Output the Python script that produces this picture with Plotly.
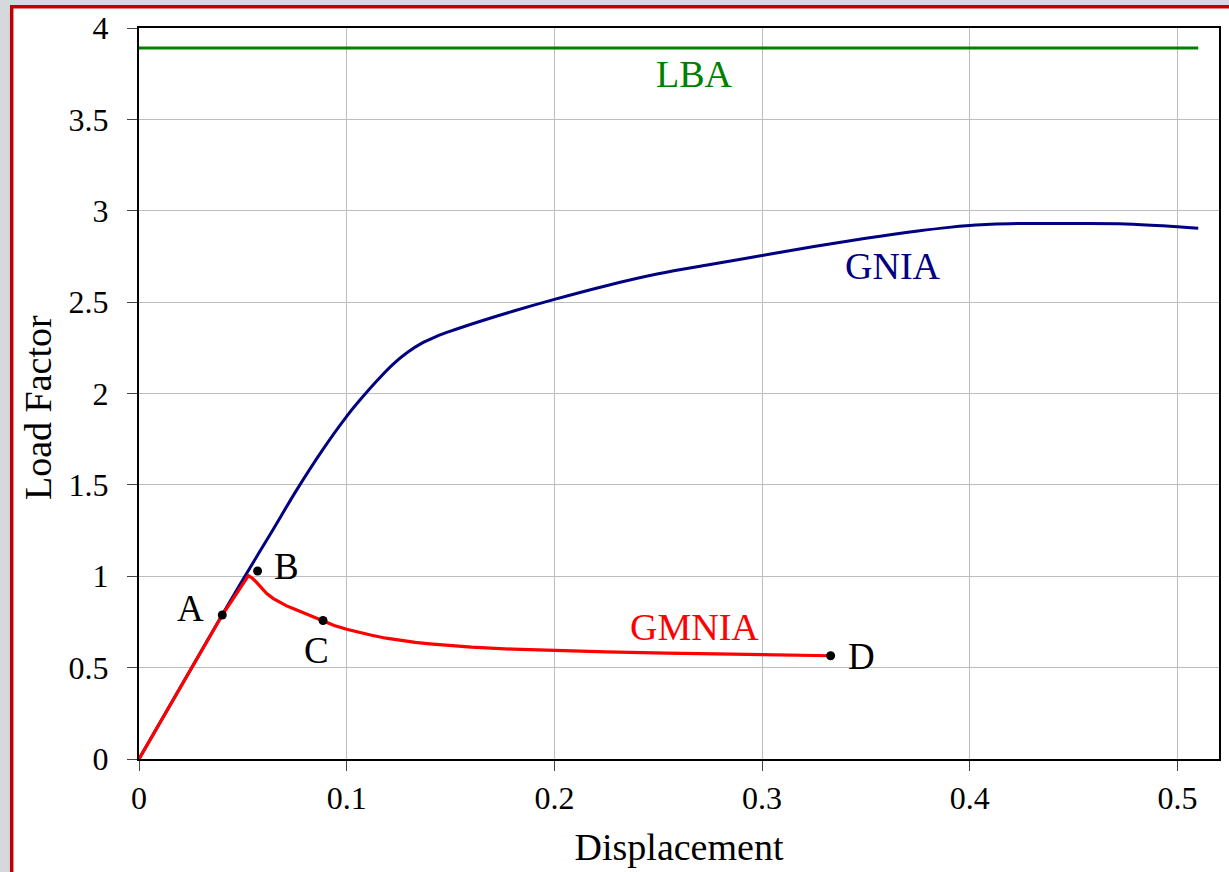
import plotly.graph_objects as go

# Load-displacement curves
lba_x = [0.0, 0.51]
lba_y = [3.89, 3.89]

gnia_x = [0.0, 0.040, 0.0515, 0.064, 0.0758, 0.088, 0.100, 0.1072, 0.115, 0.122,
          0.129, 0.136, 0.143, 0.150, 0.164, 0.180, 0.200, 0.225, 0.250,
          0.275, 0.300, 0.325, 0.350, 0.375, 0.390, 0.400, 0.410, 0.425,
          0.450, 0.475, 0.493, 0.510]
gnia_y = [0.0, 0.788, 1.010, 1.245, 1.470, 1.685, 1.875, 1.975, 2.075, 2.157,
          2.223, 2.274, 2.311, 2.341, 2.394, 2.450, 2.515, 2.590, 2.655,
          2.706, 2.755, 2.804, 2.849, 2.889, 2.909, 2.919, 2.926, 2.930,
          2.930, 2.928, 2.918, 2.904]

gmnia_x = [0.0, 0.020, 0.0401, 0.0527, 0.0545, 0.0565, 0.0583, 0.0615, 0.0647,
           0.0680, 0.0711, 0.0745, 0.0776, 0.0830, 0.0886, 0.0940, 0.100,
           0.106, 0.112, 0.119, 0.1257, 0.133, 0.140, 0.150, 0.160, 0.180,
           0.2004, 0.225, 0.254, 0.280, 0.300, 0.318, 0.333]
gmnia_y = [0.0, 0.393, 0.788, 1.003, 0.990, 0.968, 0.943, 0.905, 0.878,
           0.856, 0.838, 0.822, 0.808, 0.783, 0.758, 0.731, 0.710,
           0.692, 0.677, 0.661, 0.648, 0.638, 0.630, 0.621, 0.612, 0.601,
           0.593, 0.586, 0.579, 0.575, 0.572, 0.568, 0.565]

# Key states along the GMNIA path
point_names = ["A", "B", "C", "D"]
point_x = [0.0401, 0.0571, 0.0886, 0.333]
point_y = [0.788, 1.029, 0.758, 0.565]

# Curve labels
curve_labels = ["LBA", "GNIA", "GMNIA"]
curve_label_x = [0.2673, 0.3632, 0.2673]
curve_label_y = [3.748, 2.698, 0.722]
curve_label_colors = ["#008000", "#000080", "#ff0000"]

# Positions of the point letters next to their dots
letter_x = [0.025, 0.0708, 0.0853, 0.3478]
letter_y = [0.826, 1.051, 0.596, 0.563]

x_ticks = [0, 0.1, 0.2, 0.3, 0.4, 0.5]
x_tick_text = ["0", "0.1", "0.2", "0.3", "0.4", "0.5"]
y_ticks = [0, 0.5, 1, 1.5, 2, 2.5, 3, 3.5, 4]
y_tick_text = ["0", "0.5", "1", "1.5", "2", "2.5", "3", "3.5", "4"]

W, H = 1229, 872
ML, MR, MT, MB = 139, 10, 28, 113
FONT = "Liberation Serif, Times New Roman, serif"

fig = go.Figure()

fig.add_trace(go.Scatter(x=lba_x, y=lba_y, mode="lines",
                         line=dict(color="#008000", width=3), showlegend=False))
fig.add_trace(go.Scatter(x=gnia_x, y=gnia_y, mode="lines",
                         line=dict(color="#000080", width=3, shape="spline", smoothing=1.0),
                         showlegend=False))
fig.add_trace(go.Scatter(x=gmnia_x, y=gmnia_y, mode="lines",
                         line=dict(color="#ff0000", width=3.2),
                         showlegend=False))
fig.add_trace(go.Scatter(x=point_x, y=point_y, mode="markers",
                         marker=dict(color="black", size=9), showlegend=False))

for txt, x, y, c in zip(curve_labels, curve_label_x, curve_label_y, curve_label_colors):
    fig.add_annotation(x=x, y=y, text=txt, showarrow=False,
                       font=dict(family=FONT, size=38, color=c))
for txt, x, y in zip(point_names, letter_x, letter_y):
    fig.add_annotation(x=x, y=y, text=txt, showarrow=False,
                       font=dict(family=FONT, size=37, color="black"))

# Paper frame: white panel with a red edge on the grey page
pw = W - ML - MR
ph = H - MT - MB
def px_to_paper_x(px):
    return (px - ML) / pw
def px_to_paper_y(py):
    return (H - MB - py) / ph

fig.add_shape(type="rect", xref="paper", yref="paper", layer="below",
              x0=px_to_paper_x(11.7), x1=px_to_paper_x(1260),
              y0=px_to_paper_y(900), y1=px_to_paper_y(6.7),
              line=dict(color="#c00000", width=3.5), fillcolor="white")

# Vertical axis title
fig.add_annotation(xref="paper", yref="paper",
                   x=px_to_paper_x(38), y=px_to_paper_y(408),
                   xanchor="center", yanchor="middle",
                   text="Load Factor", textangle=-90, showarrow=False,
                   font=dict(family=FONT, size=38, color="black"))

axis_common = dict(
    showgrid=True, gridcolor="#bdbdbd", gridwidth=1.3,
    showline=True, linecolor="black", linewidth=2, mirror=True,
    ticks="outside", ticklen=10, tickcolor="#444444", tickwidth=1.3,
    zeroline=False,
    tickfont=dict(family=FONT, size=32, color="black"),
)

fig.update_xaxes(range=[0, 0.52], tickvals=x_ticks, ticktext=x_tick_text,
                 title=dict(text="Displacement", font=dict(family=FONT, size=38, color="black"),
                            standoff=18),
                 **axis_common)
fig.update_yaxes(range=[0, 4], tickvals=y_ticks, ticktext=y_tick_text,
                 ticklabelstandoff=12,
                 **axis_common)

fig.update_layout(
    width=W, height=H,
    margin=dict(l=ML, r=MR, t=MT, b=MB, autoexpand=False),
    paper_bgcolor="#d5d8dc",
    plot_bgcolor="rgba(0,0,0,0)",
    font=dict(family=FONT, color="black"),
)

fig.write_html("out.html")
